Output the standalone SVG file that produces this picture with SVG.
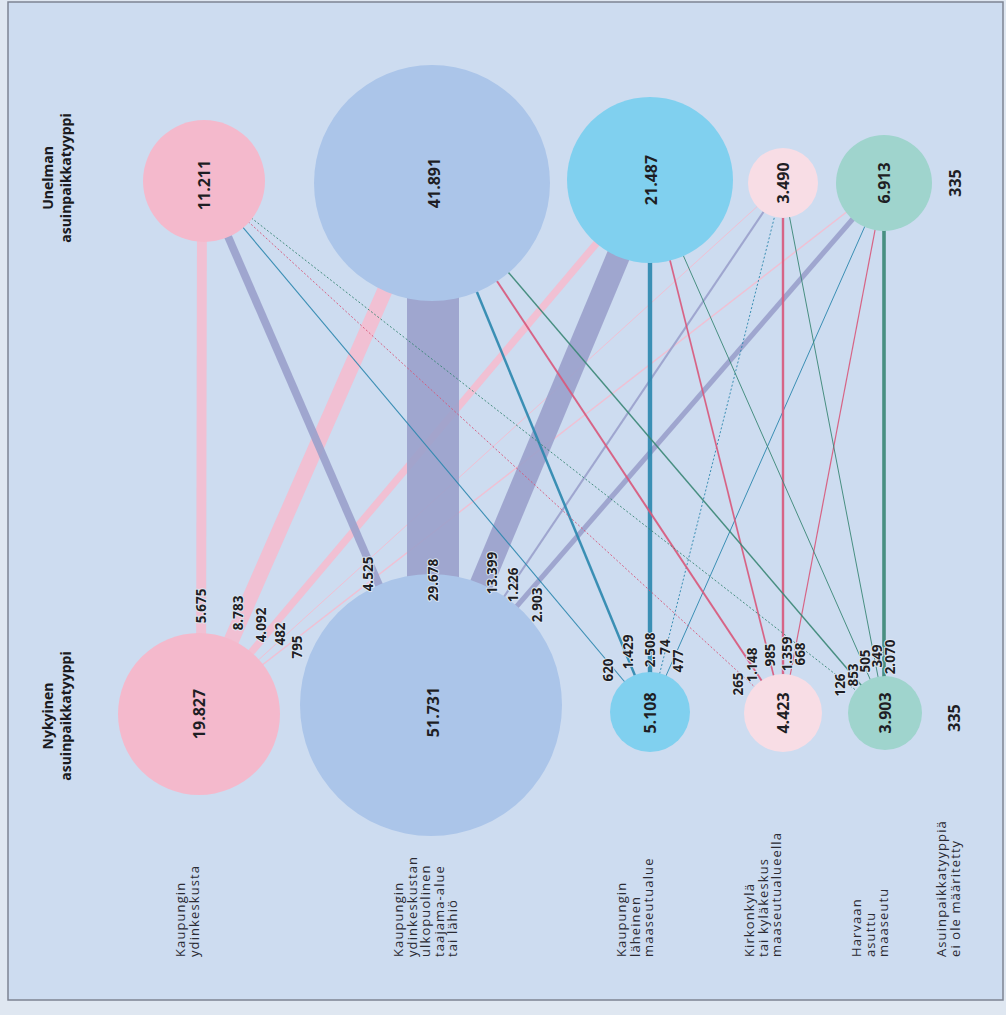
<svg xmlns="http://www.w3.org/2000/svg" width="1006" height="1015" viewBox="0 0 1006 1015">
<style>
.num{font-family:"Open Sans","Liberation Sans",sans-serif;font-weight:700;font-size:13.5px;fill:#1e1e24;text-anchor:middle;paint-order:stroke;stroke:#dce6f3;stroke-width:2px;stroke-linejoin:round}
.big{font-family:"Open Sans","Liberation Sans",sans-serif;font-weight:700;font-size:16px;fill:#1e1e24;text-anchor:middle}
.hdr{font-family:"Open Sans","Liberation Sans",sans-serif;font-weight:700;font-size:14px;fill:#1a1a20;text-anchor:middle}
.cat{font-family:"Open Sans","Liberation Sans",sans-serif;font-size:13px;letter-spacing:1.1px;fill:#2a2a33}
.toP{stroke:#f5bdd0}
.toB{stroke:#9ba1cc}
.toC{stroke:#2b87ae}
.toL{stroke:#d9587b}
.toT{stroke:#3a8776}
#connectors line{opacity:.9;stroke-linecap:butt}
.dot{stroke-dasharray:2 2}
</style>
<rect x="0" y="0" width="1006" height="1015" fill="#dfe7f1"/>
<rect x="8" y="2" width="995" height="998" fill="#cddcf0" stroke="#7e8492" stroke-width="1.5"/>

<g id="connectors">
<!-- to current Kaupungin ydinkeskusta (pink) -->
<line class="toP" x1="202" y1="181" x2="201" y2="714" stroke-width="9.9"/>
<line class="toP" x1="432" y1="183" x2="199" y2="714" stroke-width="15.4"/>
<line class="toP" x1="650" y1="180" x2="199" y2="714" stroke-width="7.2"/>
<line class="toP" x1="783" y1="183" x2="199" y2="714" stroke-width="1"/>
<line class="toP" x1="884" y1="183" x2="199" y2="714" stroke-width="1.4"/>
<!-- to current ulkopuolinen (blue) -->
<line class="toB" x1="204" y1="181" x2="431" y2="705" stroke-width="7.9"/>
<line class="toB" x1="433" y1="183" x2="433" y2="705" stroke-width="52"/>
<line class="toB" x1="650" y1="180" x2="431" y2="705" stroke-width="23.4"/>
<line class="toB" x1="783" y1="183" x2="431" y2="705" stroke-width="2.1"/>
<line class="toB" x1="884" y1="183" x2="431" y2="705" stroke-width="5.1"/>
<!-- to current läheinen maaseutualue (cyan) -->
<line class="toC" x1="204" y1="181" x2="650" y2="712" stroke-width="1.1"/>
<line class="toC" x1="432" y1="183" x2="650" y2="712" stroke-width="2.5"/>
<line class="toC" x1="650" y1="180" x2="650" y2="712" stroke-width="4.4"/>
<line class="toC dot" x1="783" y1="183" x2="650" y2="712" stroke-width="1"/>
<line class="toC" x1="884" y1="183" x2="650" y2="712" stroke-width="1"/>
<!-- to current kirkonkylä (light pink) -->
<line class="toL dot" x1="204" y1="181" x2="783" y2="713" stroke-width="1"/>
<line class="toL" x1="432" y1="183" x2="783" y2="713" stroke-width="2"/>
<line class="toL" x1="650" y1="180" x2="783" y2="713" stroke-width="1.7"/>
<line class="toL" x1="783" y1="183" x2="783" y2="713" stroke-width="2.4"/>
<line class="toL" x1="884" y1="183" x2="783" y2="713" stroke-width="1.2"/>
<!-- to current harvaan asuttu (teal) -->
<line class="toT dot" x1="204" y1="181" x2="885" y2="713" stroke-width="1"/>
<line class="toT" x1="432" y1="183" x2="885" y2="713" stroke-width="1.5"/>
<line class="toT" x1="650" y1="180" x2="885" y2="713" stroke-width="1"/>
<line class="toT" x1="783" y1="183" x2="885" y2="713" stroke-width="1"/>
<line class="toT" x1="884" y1="183" x2="884" y2="713" stroke-width="3.6"/>
</g>

<g id="header-dream">
<text class="hdr" transform="translate(53,178) rotate(-90)">Unelman<tspan x="0" dy="18">asuinpaikkatyyppi</tspan></text>
</g>
<g id="header-current">
<text class="hdr" transform="translate(53,716) rotate(-90)">Nykyinen<tspan x="0" dy="18">asuinpaikkatyyppi</tspan></text>
</g>

<g id="dream-ydinkeskusta"><circle cx="204" cy="181" r="61" fill="#f4b9cc"/><text class="big" transform="translate(210,185) rotate(-90)">11.211</text></g>
<g id="dream-ulkopuolinen"><circle cx="432" cy="183" r="118" fill="#abc5e9"/><text class="big" transform="translate(440,183) rotate(-90)">41.891</text></g>
<g id="dream-laheinen"><circle cx="650" cy="180" r="83" fill="#80d0ef"/><text class="big" transform="translate(657,180) rotate(-90)">21.487</text></g>
<g id="dream-kirkonkyla"><circle cx="783" cy="183" r="35" fill="#f8dde5"/><text class="big" transform="translate(789,183) rotate(-90)">3.490</text></g>
<g id="dream-harvaan"><circle cx="884" cy="183" r="48" fill="#9fd4cd"/><text class="big" transform="translate(890,183) rotate(-90)">6.913</text></g>
<g id="dream-maarittamaton"><text class="big" transform="translate(961,183) rotate(-90)">335</text></g>

<g id="current-ydinkeskusta"><circle cx="199" cy="714" r="81" fill="#f4b9cc"/><text class="big" transform="translate(205,714) rotate(-90)">19.827</text></g>
<g id="current-ulkopuolinen"><circle cx="431" cy="705" r="131" fill="#abc5e9"/><text class="big" transform="translate(439,712) rotate(-90)">51.731</text></g>
<g id="current-laheinen"><circle cx="650" cy="712" r="40" fill="#80d0ef"/><text class="big" transform="translate(656,713) rotate(-90)">5.108</text></g>
<g id="current-kirkonkyla"><circle cx="783" cy="713" r="39" fill="#f8dde5"/><text class="big" transform="translate(789,713) rotate(-90)">4.423</text></g>
<g id="current-harvaan"><circle cx="885" cy="713" r="37" fill="#9fd4cd"/><text class="big" transform="translate(891,713) rotate(-90)">3.903</text></g>
<g id="current-maarittamaton"><text class="big" transform="translate(960,718) rotate(-90)">335</text></g>

<g id="flow-labels">
<text class="num" transform="translate(206,606) rotate(-90)">5.675</text>
<text class="num" transform="translate(243,613) rotate(-90)">8.783</text>
<text class="num" transform="translate(266,625) rotate(-90)">4.092</text>
<text class="num" transform="translate(285,634) rotate(-90)">482</text>
<text class="num" transform="translate(302,647) rotate(-90)">795</text>
<text class="num" transform="translate(373,574) rotate(-90)">4.525</text>
<text class="num" transform="translate(438,580) rotate(-90)">29.678</text>
<text class="num" transform="translate(497,573) rotate(-90)">13.399</text>
<text class="num" transform="translate(518,585) rotate(-90)">1.226</text>
<text class="num" transform="translate(542,605) rotate(-90)">2.903</text>
<text class="num" transform="translate(613,670) rotate(-90)">620</text>
<text class="num" transform="translate(633,652) rotate(-90)">1.429</text>
<text class="num" transform="translate(655,650) rotate(-90)">2.508</text>
<text class="num" transform="translate(670,647) rotate(-90)">74</text>
<text class="num" transform="translate(683,661) rotate(-90)">477</text>
<text class="num" transform="translate(743,684) rotate(-90)">265</text>
<text class="num" transform="translate(757,665) rotate(-90)">1.148</text>
<text class="num" transform="translate(775,655) rotate(-90)">985</text>
<text class="num" transform="translate(792,654) rotate(-90)">1.359</text>
<text class="num" transform="translate(805,654) rotate(-90)">668</text>
<text class="num" transform="translate(845,685) rotate(-90)">126</text>
<text class="num" transform="translate(858,675) rotate(-90)">853</text>
<text class="num" transform="translate(870,661) rotate(-90)">505</text>
<text class="num" transform="translate(882,656) rotate(-90)">349</text>
<text class="num" transform="translate(895,657) rotate(-90)">2.070</text>
</g>

<g id="category-labels">
<text class="cat" transform="translate(185,957) rotate(-90)">Kaupungin<tspan x="0" dy="13.5">ydinkeskusta</tspan></text>
<text class="cat" transform="translate(403,957) rotate(-90)">Kaupungin<tspan x="0" dy="13.5">ydinkeskustan</tspan><tspan x="0" dy="13.5">ulkopuolinen</tspan><tspan x="0" dy="13.5">taajama-alue</tspan><tspan x="0" dy="13.5">tai lähiö</tspan></text>
<text class="cat" transform="translate(626,957) rotate(-90)">Kaupungin<tspan x="0" dy="13.5">läheinen</tspan><tspan x="0" dy="13.5">maaseutualue</tspan></text>
<text class="cat" transform="translate(754,957) rotate(-90)">Kirkonkylä<tspan x="0" dy="13.5">tai kyläkeskus</tspan><tspan x="0" dy="13.5">maaseutualueella</tspan></text>
<text class="cat" transform="translate(861,957) rotate(-90)">Harvaan<tspan x="0" dy="13.5">asuttu</tspan><tspan x="0" dy="13.5">maaseutu</tspan></text>
<text class="cat" transform="translate(946,957) rotate(-90)">Asuinpaikkatyyppiä<tspan x="0" dy="13.5">ei ole määritetty</tspan></text>
</g>
</svg>
